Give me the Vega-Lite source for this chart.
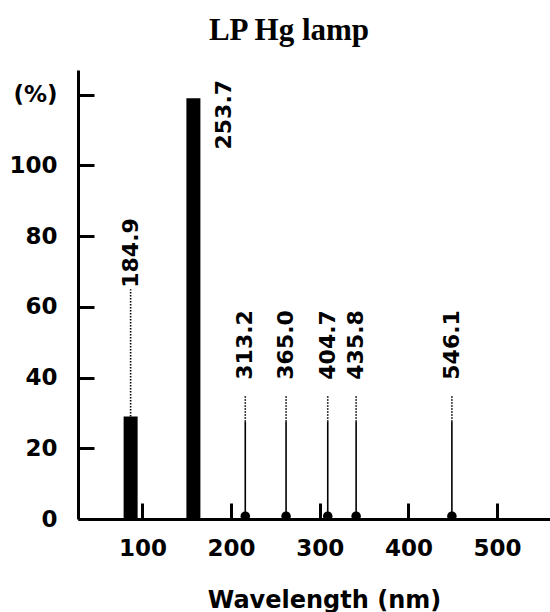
{
  "$schema": "https://vega.github.io/schema/vega-lite/v6.json",
  "autosize": {"type": "none"},
  "padding": {"left": 78, "top": 70, "right": 0, "bottom": 93},
  "width": 472,
  "height": 449,
  "background": "white",
  "config": {"view": {"stroke": null}},
  "title": {"text": "LP Hg lamp", "font": "Liberation Serif", "fontSize": 31, "fontWeight": "bold", "color": "black", "anchor": "middle", "dx": -25, "dy": 21, "offset": 20, "baseline": "alphabetic"},
  "data": {"values": [
    {"wl": "184.9", "x": 86.7, "pct": 29, "kind": "bar"},
    {"wl": "253.7", "x": 157.5, "pct": 119, "kind": "bar"},
    {"wl": "313.2", "x": 216, "pct": 27.5, "kind": "line"},
    {"wl": "365.0", "x": 262, "pct": 27.5, "kind": "line"},
    {"wl": "404.7", "x": 309, "pct": 27.5, "kind": "line"},
    {"wl": "435.8", "x": 341, "pct": 27.5, "kind": "line"},
    {"wl": "546.1", "x": 449, "pct": 27.5, "kind": "line"}
  ]},
  "encoding": {
    "x": {"field": "x", "type": "quantitative", "scale": {"domain": [33, 554], "nice": false, "zero": false},
      "axis": {"values": [100, 200, 300, 400, 500], "tickSize": -16, "tickWidth": 3, "domainWidth": 3, "domainColor": "black", "tickColor": "black", "grid": false,
        "labelFont": "DejaVu Sans", "labelFontWeight": "bold", "labelFontSize": 23, "labelColor": "black", "labelPadding": 52, "labelBaseline": "alphabetic",
        "title": "Wavelength (nm)", "titleFont": "DejaVu Sans", "titleFontSize": 24, "titleFontWeight": "bold", "titleColor": "black", "titleX": 246, "titleY": 88, "titleBaseline": "alphabetic", "titleAlign": "center"}},
    "y": {"field": "pct", "type": "quantitative", "scale": {"domain": [0, 127], "nice": false},
      "axis": {"values": [0, 20, 40, 60, 80, 100, 120], "labelExpr": "datum.value == 120 ? '(%)' : datum.label", "tickSize": -16, "tickWidth": 3, "domainWidth": 3, "domainColor": "black", "tickColor": "black", "grid": false,
        "labelFont": "DejaVu Sans", "labelFontWeight": "bold", "labelFontSize": 23, "labelColor": "black", "labelPadding": 37, "title": null}}
  },
  "layer": [
    {"transform": [{"filter": "datum.kind == 'bar'"}], "mark": {"type": "bar", "size": 14, "color": "black"}},
    {"transform": [{"filter": "datum.kind == 'line'"}], "mark": {"type": "rule", "color": "black", "strokeWidth": 1.6},
      "encoding": {"y": {"field": "pct", "type": "quantitative"}, "y2": {"datum": 0}}},
    {"transform": [{"filter": "datum.kind == 'line'"}], "mark": {"type": "rule", "color": "black", "strokeWidth": 1.6, "strokeDash": [1.5, 1.5]},
      "encoding": {"y": {"field": "pct", "type": "quantitative"}, "y2": {"datum": 35}}},
    {"transform": [{"filter": "datum.wl == '184.9'"}], "mark": {"type": "rule", "color": "black", "strokeWidth": 1.6, "strokeDash": [1.5, 1.5]},
      "encoding": {"y": {"field": "pct", "type": "quantitative"}, "y2": {"datum": 65}}},
    {"transform": [{"filter": "datum.kind == 'line'"}], "mark": {"type": "point", "shape": "circle", "filled": true, "color": "black", "size": 90, "opacity": 1},
      "encoding": {"y": {"datum": 0.8}}},
    {"transform": [{"filter": "datum.kind == 'line'"}], "mark": {"type": "text", "angle": 270, "align": "left", "baseline": "middle", "font": "DejaVu Sans", "fontWeight": "bold", "fontSize": 22, "color": "black"},
      "encoding": {"y": {"datum": 39.4}, "text": {"field": "wl"}}},
    {"transform": [{"filter": "datum.wl == '184.9'"}], "mark": {"type": "text", "angle": 270, "align": "left", "baseline": "middle", "font": "DejaVu Sans", "fontWeight": "bold", "fontSize": 22, "color": "black"},
      "encoding": {"y": {"datum": 65.4}, "text": {"field": "wl"}}},
    {"transform": [{"filter": "datum.wl == '253.7'"}], "mark": {"type": "text", "angle": 270, "align": "left", "baseline": "middle", "dy": 31, "font": "DejaVu Sans", "fontWeight": "bold", "fontSize": 22, "color": "black"},
      "encoding": {"y": {"datum": 104.5}, "text": {"field": "wl"}}}
  ]
}
